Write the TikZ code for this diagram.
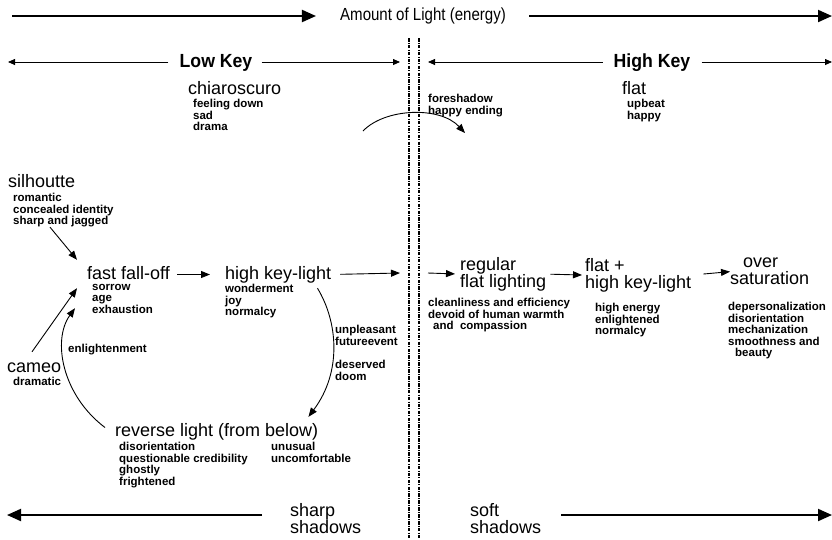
\documentclass[tikz,border=0pt]{standalone}
\usepackage{fontspec}
\setmainfont{Liberation Sans}
\newfontfamily\narrowfont[FakeStretch=0.86]{Liberation Sans}
\newfontfamily\keyfont[FakeStretch=0.93]{Liberation Sans}
\usetikzlibrary{arrows.meta}
\begin{document}
\begin{tikzpicture}[x=1pt,y=-1pt,
  big/.style={font=\fontsize{18}{17}\selectfont, inner sep=0pt, text height=13pt, text depth=4pt, anchor=base west},
  bigtwo/.style={font=\fontsize{18}{17}\selectfont, inner sep=0pt, align=left, anchor=north west},
  small/.style={font=\bfseries\fontsize{11.5}{11.5}\selectfont, inner sep=0pt, align=left, anchor=north west},
  banner/.style={font=\narrowfont\fontsize{17.5}{18}\selectfont, inner sep=0pt, text height=13pt, text depth=4pt},
  keylabel/.style={font=\keyfont\bfseries\fontsize{19}{19}\selectfont, inner sep=0pt, text height=14pt, text depth=4pt},
  heavy/.style={line width=2pt, -{Triangle[length=14pt,width=12pt]}},
  keyline/.style={line width=0.8pt, -{Triangle[length=7pt,width=6pt]}},
  flow/.style={line width=0.9pt, -{Triangle[length=9pt,width=7pt]}},
  divider/.style={line width=1.2pt, dash pattern=on 3.5pt off 1.2pt on 1pt off 1.2pt},
]
\useasboundingbox (0,0) rectangle (832,539);
\fill[white] (0,0) rectangle (832,539);

% ---- energy axis ----
\node[banner] (amount) at (423,16) {Amount of Light (energy)};
\coordinate (tl) at (12,16);
\coordinate (tr) at (832,16);
\draw[heavy, shorten >=24pt] (tl) -- (amount.west);
\draw[heavy, shorten <=23pt] (amount.east) -- (tr);

% ---- key ranges ----
\node[keylabel] (lowkey) at (216,62) {Low Key};
\node[keylabel] (highkey) at (652,62) {High Key};
\coordinate (lkl) at (8,62);
\coordinate (lkr) at (400,62);
\coordinate (hkl) at (428,62);
\coordinate (hkr) at (832,62);
\draw[keyline, shorten <=11pt] (lowkey.west) -- (lkl);
\draw[keyline, shorten <=9pt] (lowkey.east) -- (lkr);
\draw[keyline, shorten <=11pt] (highkey.west) -- (hkl);
\draw[keyline, shorten <=11pt] (highkey.east) -- (hkr);

% ---- divider ----
\coordinate (d1t) at (409,38); \coordinate (d1b) at (409,539);
\coordinate (d2t) at (419,38); \coordinate (d2b) at (419,539);
\draw[divider] (d1t) -- (d1b);
\draw[divider] (d2t) -- (d2b);

% ---- top row ----
\node[big] (chiaro) at (188,94) {chiaroscuro};
\node[small] (chiarosub) at (193,99) {feeling down\\sad\\drama};
\node[small] (fore) at (428,94) {foreshadow\\happy ending};
\node[big] (flat) at (622,94) {flat};
\node[small] (flatsub) at (627,99) {upbeat\\happy};
\coordinate (fsa) at (363,131);
\coordinate (fsb) at (465,133);
\draw[flow] (fsa) .. controls (385,108) and (440,106) .. (fsb);

% ---- low key cycle ----
\node[big] (sil) at (8,187) {silhoutte};
\node[small] (silsub) at (13,193) {romantic\\concealed identity\\sharp and jagged};
\node[big] (fast) at (87,279) {fast fall-off};
\node[small] (fastsub) at (92,284) {sorrow\\age\\exhaustion};
\node[big] (highkl) at (225,279) {high key-light};
\node[small] (highklsub) at (225,284) {wonderment\\joy\\normalcy};
\node[big] (cameo) at (7,372) {cameo};
\node[small] (cameosub) at (13,377) {dramatic};
\node[small] (enl) at (68,344) {enlightenment};
\node[small] (unpl) at (335,325) {unpleasant\\futureevent};
\node[small] (doom) at (335,360) {deserved\\doom};
\node[big] (rev) at (115,436) {reverse light (from below)};
\node[small] (revsub) at (119,442) {disorientation\\questionable credibility\\ghostly\\frightened};
\node[small] (revsub2) at (271,442) {unusual\\uncomfortable};

\draw[flow] ([xshift=37pt]silsub.south west) -- ([shift={(-10pt,6pt)}]fast.north west);
\draw[flow, shorten <=7pt, shorten >=15pt] (fast.east) -- (highkl.west);
\draw[flow] ([shift={(25pt,7pt)}]cameo.north west) -- ([shift={(-10pt,-5pt)}]fast.south west);
\draw[flow] ([shift={(-10pt,4pt)}]rev.west) .. controls (62,395) and (52,340) .. ([shift={(-12pt,-25pt)}]fast.south west);
\draw[flow] ([shift={(-14pt,-5pt)}]highkl.south east) .. controls (338,322) and (342,372) .. ([shift={(-10pt,6pt)}]rev.north east);

\coordinate (crossl) at (400,273);
\coordinate (crossr) at (428,273);
\draw[flow, shorten <=9pt] (highkl.east) -- (crossl);

% ---- high key sequence ----
\node[bigtwo] (regular) at (460,257) {regular\\flat lighting};
\node[small] (regsub) at (428,298) {cleanliness and efficiency\\devoid of human warmth\\\hspace*{5pt}and\ \ compassion};
\node[bigtwo] (flatplus) at (585,258) {flat +\\high key-light};
\node[small] (flatplussub) at (595,303) {high energy\\enlightened\\normalcy};
\node[bigtwo] (over) at (730,258) {\hspace*{13pt}over\\saturation};
\node[small] (oversub) at (728,302) {depersonalization\\disorientation\\mechanization\\smoothness and\\\hspace*{7pt}beauty};

\draw[flow, shorten >=5pt] (crossr) -- (regular.west);
\draw[flow, shorten <=4pt, shorten >=3pt] (regular.east) -- (flatplus.west);
\draw[flow, shorten <=12pt, shorten >=0pt] (flatplus.east) -- (over.west);

% ---- shadow axis ----
\node[bigtwo] (sharp) at (290,503) {sharp\\shadows};
\node[bigtwo] (soft) at (470,503) {soft\\shadows};
\coordinate (bl) at (7,515);
\coordinate (br) at (832,515);
\draw[heavy, shorten <=28pt] (sharp.west |- bl) -- (bl);
\draw[heavy, shorten <=20pt] (soft.east |- br) -- (br);
\end{tikzpicture}
\end{document}
